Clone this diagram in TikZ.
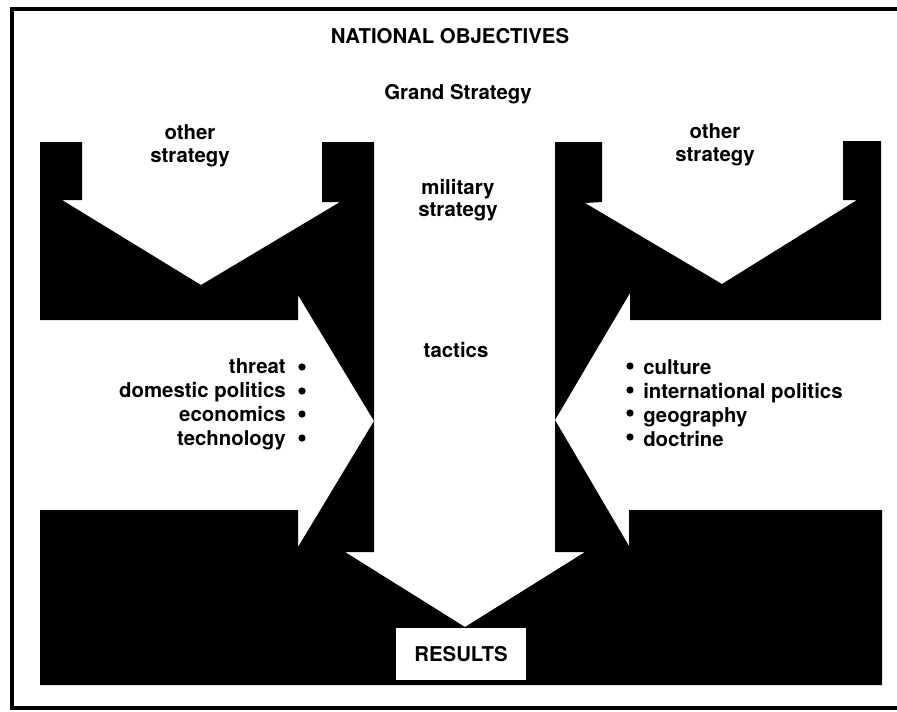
\documentclass[tikz,border=0pt]{standalone}
\usepackage{fontspec}
\setmainfont{TeX Gyre Heros}
\tikzset{
    txt/.style={font=\fontsize{14.5}{16}\selectfont\bfseries, align=center, inner sep=0pt},
    lst/.style={font=\fontsize{14.5}{17}\selectfont\bfseries, inner sep=0pt},
    box/.style={fill=white, minimum width=3.25cm, minimum height=1.3cm, inner sep=0pt,
        font=\fontsize{14.5}{16}\selectfont\bfseries}
}

\begin{document}
\begin{tikzpicture}[x=0.025cm, y=-0.025cm]
    \useasboundingbox (0, 0) rectangle (897, 712);
    \coordinate (tl) at (374, 421);
    \coordinate (tr) at (555, 420);
    \coordinate (tc) at (465, 627);
    \draw[line width=2.5pt](897, 9)--(12, 9)--(12, 708)--(897, 708);
    \fill(40, 142)--(82, 142)--(82, 200)--(62, 200)--(201, 285)--(340, 202)--(322, 202)--(322, 142)--(374, 142)--(tl)--(298, 295)--(298, 320)--(40, 320)--cycle;
    \fill(555, 142)--(602, 142)--(602, 202)--(585, 203)--(722, 284)--(857, 200)--(843, 200)--(843, 141)--(881, 141)--(881, 320)--(630, 320)--(630, 293)--(tr)--cycle;
    \fill(40, 510)--(298, 510)--(298, 547)--(tl)--(374, 552)--(345, 552)--(tc)--(585, 552)--(555, 552)--(tr)--(629, 546)--(629, 510)--(882, 510)--(882, 685)--(40, 685)--cycle;
    \node[txt] (nat) at (450, 36) {NATIONAL OBJECTIVES};
    \node[txt] (grand) at (458, 94) {Grand Strategy};
    \node[txt] (othl) at (190, 146) {other\\strategy};
    \node[txt] (othr) at (715, 145) {other\\strategy};
    \node[txt] (mil) at (458, 200) {military\\strategy};
    \node[txt] (tac) at (456, 350) {tactics};
    \node[lst, align=right, anchor=east] (lft) at (286, 404)
        {threat\\domestic politics\\economics\\technology};
    \node[lst, align=left, anchor=west] (rgt) at (643, 403)
        {culture\\international politics\\geography\\doctrine};
    \foreach \y in {367, 391, 414, 438}{
        \fill(302, \y)circle(2.6pt);
        \fill(630, \y-1)circle(2.6pt);
    }
    \node[box] (res) at (461, 654) {RESULTS};
\end{tikzpicture}
\end{document}
